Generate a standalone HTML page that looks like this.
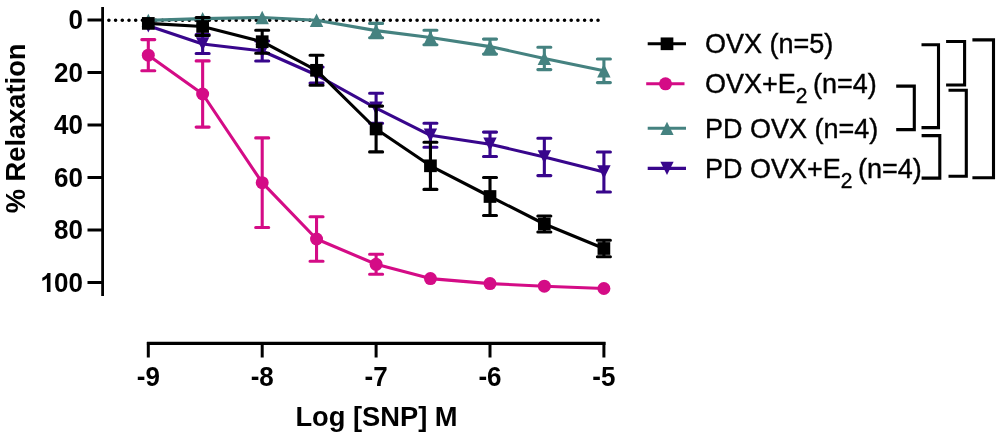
<!DOCTYPE html>
<html><head><meta charset="utf-8"><style>
html,body{margin:0;padding:0;background:#fff;}
svg{display:block;will-change:transform;}
.tk{font-family:"Liberation Sans",sans-serif;font-weight:bold;font-size:26px;}
.al{font-family:"Liberation Sans",sans-serif;font-weight:bold;font-size:27.3px;}
.lg{font-family:"Liberation Sans",sans-serif;font-size:27px;stroke:#000;stroke-width:0.4px;}
</style></head><body>
<svg width="1001" height="439" viewBox="0 0 1001 439">
<line x1="108.9" y1="20.2" x2="600" y2="20.2" stroke="#000" stroke-width="3.6" stroke-dasharray="0 6.7" stroke-linecap="round"/>
<path d="M202.64 34.50V53.50" stroke="#38068c" stroke-width="3.1" fill="none"/>
<path d="M196.14 34.50H209.14M196.14 53.50H209.14" stroke="#38068c" stroke-width="3.1" stroke-linecap="round" fill="none"/>
<path d="M262.20 41.00V61.00" stroke="#38068c" stroke-width="3.1" fill="none"/>
<path d="M255.70 41.00H268.70M255.70 61.00H268.70" stroke="#38068c" stroke-width="3.1" stroke-linecap="round" fill="none"/>
<path d="M316.54 67.00V83.00" stroke="#38068c" stroke-width="3.1" fill="none"/>
<path d="M310.04 67.00H323.04M310.04 83.00H323.04" stroke="#38068c" stroke-width="3.1" stroke-linecap="round" fill="none"/>
<path d="M376.10 93.20V123.20" stroke="#38068c" stroke-width="3.1" fill="none"/>
<path d="M369.60 93.20H382.60M369.60 123.20H382.60" stroke="#38068c" stroke-width="3.1" stroke-linecap="round" fill="none"/>
<path d="M430.44 123.30V147.30" stroke="#38068c" stroke-width="3.1" fill="none"/>
<path d="M423.94 123.30H436.94M423.94 147.30H436.94" stroke="#38068c" stroke-width="3.1" stroke-linecap="round" fill="none"/>
<path d="M490.00 132.10V156.50" stroke="#38068c" stroke-width="3.1" fill="none"/>
<path d="M483.50 132.10H496.50M483.50 156.50H496.50" stroke="#38068c" stroke-width="3.1" stroke-linecap="round" fill="none"/>
<path d="M544.34 138.20V175.60" stroke="#38068c" stroke-width="3.1" fill="none"/>
<path d="M537.84 138.20H550.84M537.84 175.60H550.84" stroke="#38068c" stroke-width="3.1" stroke-linecap="round" fill="none"/>
<path d="M603.90 152.00V192.00" stroke="#38068c" stroke-width="3.1" fill="none"/>
<path d="M597.40 152.00H610.40M597.40 192.00H610.40" stroke="#38068c" stroke-width="3.1" stroke-linecap="round" fill="none"/>
<path d="M148.30 25.70 L202.64 44.00 L262.20 51.00 L316.54 75.00 L376.10 108.20 L430.44 135.30 L490.00 144.30 L544.34 156.90 L603.90 172.00" stroke="#38068c" stroke-width="3.1" fill="none" stroke-linejoin="round"/>
<path d="M148.30 32.40L155.00 19.00L141.60 19.00Z" fill="#38068c"/>
<path d="M202.64 50.70L209.34 37.30L195.94 37.30Z" fill="#38068c"/>
<path d="M262.20 57.70L268.90 44.30L255.50 44.30Z" fill="#38068c"/>
<path d="M316.54 81.70L323.24 68.30L309.84 68.30Z" fill="#38068c"/>
<path d="M376.10 114.90L382.80 101.50L369.40 101.50Z" fill="#38068c"/>
<path d="M430.44 142.00L437.14 128.60L423.74 128.60Z" fill="#38068c"/>
<path d="M490.00 151.00L496.70 137.60L483.30 137.60Z" fill="#38068c"/>
<path d="M544.34 163.60L551.04 150.20L537.64 150.20Z" fill="#38068c"/>
<path d="M603.90 178.70L610.60 165.30L597.20 165.30Z" fill="#38068c"/>
<path d="M376.10 23.40V37.80" stroke="#458280" stroke-width="3.1" fill="none"/>
<path d="M369.60 23.40H382.60M369.60 37.80H382.60" stroke="#458280" stroke-width="3.1" stroke-linecap="round" fill="none"/>
<path d="M430.44 30.20V44.80" stroke="#458280" stroke-width="3.1" fill="none"/>
<path d="M423.94 30.20H436.94M423.94 44.80H436.94" stroke="#458280" stroke-width="3.1" stroke-linecap="round" fill="none"/>
<path d="M490.00 39.10V54.10" stroke="#458280" stroke-width="3.1" fill="none"/>
<path d="M483.50 39.10H496.50M483.50 54.10H496.50" stroke="#458280" stroke-width="3.1" stroke-linecap="round" fill="none"/>
<path d="M544.34 47.20V69.60" stroke="#458280" stroke-width="3.1" fill="none"/>
<path d="M537.84 47.20H550.84M537.84 69.60H550.84" stroke="#458280" stroke-width="3.1" stroke-linecap="round" fill="none"/>
<path d="M603.90 59.00V82.60" stroke="#458280" stroke-width="3.1" fill="none"/>
<path d="M597.40 59.00H610.40M597.40 82.60H610.40" stroke="#458280" stroke-width="3.1" stroke-linecap="round" fill="none"/>
<path d="M148.30 20.40 L202.64 18.60 L262.20 17.50 L316.54 20.20 L376.10 30.60 L430.44 37.50 L490.00 46.60 L544.34 58.40 L603.90 70.80" stroke="#458280" stroke-width="3.1" fill="none" stroke-linejoin="round"/>
<path d="M148.30 13.70L155.00 27.10L141.60 27.10Z" fill="#458280"/>
<path d="M202.64 11.90L209.34 25.30L195.94 25.30Z" fill="#458280"/>
<path d="M262.20 10.80L268.90 24.20L255.50 24.20Z" fill="#458280"/>
<path d="M316.54 13.50L323.24 26.90L309.84 26.90Z" fill="#458280"/>
<path d="M376.10 23.90L382.80 37.30L369.40 37.30Z" fill="#458280"/>
<path d="M430.44 30.80L437.14 44.20L423.74 44.20Z" fill="#458280"/>
<path d="M490.00 39.90L496.70 53.30L483.30 53.30Z" fill="#458280"/>
<path d="M544.34 51.70L551.04 65.10L537.64 65.10Z" fill="#458280"/>
<path d="M603.90 64.10L610.60 77.50L597.20 77.50Z" fill="#458280"/>
<path d="M148.30 39.60V70.80" stroke="#d40c86" stroke-width="3.1" fill="none"/>
<path d="M141.80 39.60H154.80M141.80 70.80H154.80" stroke="#d40c86" stroke-width="3.1" stroke-linecap="round" fill="none"/>
<path d="M202.64 60.90V127.10" stroke="#d40c86" stroke-width="3.1" fill="none"/>
<path d="M196.14 60.90H209.14M196.14 127.10H209.14" stroke="#d40c86" stroke-width="3.1" stroke-linecap="round" fill="none"/>
<path d="M262.20 137.90V227.50" stroke="#d40c86" stroke-width="3.1" fill="none"/>
<path d="M255.70 137.90H268.70M255.70 227.50H268.70" stroke="#d40c86" stroke-width="3.1" stroke-linecap="round" fill="none"/>
<path d="M316.54 216.80V261.20" stroke="#d40c86" stroke-width="3.1" fill="none"/>
<path d="M310.04 216.80H323.04M310.04 261.20H323.04" stroke="#d40c86" stroke-width="3.1" stroke-linecap="round" fill="none"/>
<path d="M376.10 254.30V274.30" stroke="#d40c86" stroke-width="3.1" fill="none"/>
<path d="M369.60 254.30H382.60M369.60 274.30H382.60" stroke="#d40c86" stroke-width="3.1" stroke-linecap="round" fill="none"/>
<path d="M148.30 55.20 L202.64 94.00 L262.20 182.70 L316.54 239.00 L376.10 264.30 L430.44 278.60 L490.00 283.60 L544.34 286.20 L603.90 288.50" stroke="#d40c86" stroke-width="3.1" fill="none" stroke-linejoin="round"/>
<circle cx="148.30" cy="55.20" r="6.50" fill="#d40c86"/>
<circle cx="202.64" cy="94.00" r="6.50" fill="#d40c86"/>
<circle cx="262.20" cy="182.70" r="6.50" fill="#d40c86"/>
<circle cx="316.54" cy="239.00" r="6.50" fill="#d40c86"/>
<circle cx="376.10" cy="264.30" r="6.50" fill="#d40c86"/>
<circle cx="430.44" cy="278.60" r="6.50" fill="#d40c86"/>
<circle cx="490.00" cy="283.60" r="6.50" fill="#d40c86"/>
<circle cx="544.34" cy="286.20" r="6.50" fill="#d40c86"/>
<circle cx="603.90" cy="288.50" r="6.50" fill="#d40c86"/>
<path d="M202.64 17.50V35.50" stroke="#000000" stroke-width="3.1" fill="none"/>
<path d="M196.14 17.50H209.14M196.14 35.50H209.14" stroke="#000000" stroke-width="3.1" stroke-linecap="round" fill="none"/>
<path d="M262.20 30.20V53.20" stroke="#000000" stroke-width="3.1" fill="none"/>
<path d="M255.70 30.20H268.70M255.70 53.20H268.70" stroke="#000000" stroke-width="3.1" stroke-linecap="round" fill="none"/>
<path d="M316.54 55.30V85.30" stroke="#000000" stroke-width="3.1" fill="none"/>
<path d="M310.04 55.30H323.04M310.04 85.30H323.04" stroke="#000000" stroke-width="3.1" stroke-linecap="round" fill="none"/>
<path d="M376.10 106.10V151.90" stroke="#000000" stroke-width="3.1" fill="none"/>
<path d="M369.60 106.10H382.60M369.60 151.90H382.60" stroke="#000000" stroke-width="3.1" stroke-linecap="round" fill="none"/>
<path d="M430.44 142.20V189.40" stroke="#000000" stroke-width="3.1" fill="none"/>
<path d="M423.94 142.20H436.94M423.94 189.40H436.94" stroke="#000000" stroke-width="3.1" stroke-linecap="round" fill="none"/>
<path d="M490.00 177.50V215.50" stroke="#000000" stroke-width="3.1" fill="none"/>
<path d="M483.50 177.50H496.50M483.50 215.50H496.50" stroke="#000000" stroke-width="3.1" stroke-linecap="round" fill="none"/>
<path d="M544.34 216.00V232.00" stroke="#000000" stroke-width="3.1" fill="none"/>
<path d="M537.84 216.00H550.84M537.84 232.00H550.84" stroke="#000000" stroke-width="3.1" stroke-linecap="round" fill="none"/>
<path d="M603.90 240.30V256.70" stroke="#000000" stroke-width="3.1" fill="none"/>
<path d="M597.40 240.30H610.40M597.40 256.70H610.40" stroke="#000000" stroke-width="3.1" stroke-linecap="round" fill="none"/>
<path d="M148.30 23.40 L202.64 26.50 L262.20 41.70 L316.54 70.30 L376.10 129.00 L430.44 165.80 L490.00 196.50 L544.34 224.00 L603.90 248.50" stroke="#000000" stroke-width="3.1" fill="none" stroke-linejoin="round"/>
<rect x="141.95" y="17.05" width="12.70" height="12.70" fill="#000000"/>
<rect x="196.29" y="20.15" width="12.70" height="12.70" fill="#000000"/>
<rect x="255.85" y="35.35" width="12.70" height="12.70" fill="#000000"/>
<rect x="310.19" y="63.95" width="12.70" height="12.70" fill="#000000"/>
<rect x="369.75" y="122.65" width="12.70" height="12.70" fill="#000000"/>
<rect x="424.09" y="159.45" width="12.70" height="12.70" fill="#000000"/>
<rect x="483.65" y="190.15" width="12.70" height="12.70" fill="#000000"/>
<rect x="537.99" y="217.65" width="12.70" height="12.70" fill="#000000"/>
<rect x="597.55" y="242.15" width="12.70" height="12.70" fill="#000000"/>
<path d="M102.6 7V296" stroke="#000" stroke-width="2.8" fill="none"/>
<path d="M87.5 20.00H102.6" stroke="#000" stroke-width="3"/>
<text transform="translate(83 29.40) scale(1 1.04)" text-anchor="end" class="tk">0</text>
<path d="M87.5 72.50H102.6" stroke="#000" stroke-width="3"/>
<text transform="translate(83 81.90) scale(1 1.04)" text-anchor="end" class="tk">20</text>
<path d="M87.5 125.00H102.6" stroke="#000" stroke-width="3"/>
<text transform="translate(83 134.40) scale(1 1.04)" text-anchor="end" class="tk">40</text>
<path d="M87.5 177.50H102.6" stroke="#000" stroke-width="3"/>
<text transform="translate(83 186.90) scale(1 1.04)" text-anchor="end" class="tk">60</text>
<path d="M87.5 230.00H102.6" stroke="#000" stroke-width="3"/>
<text transform="translate(83 239.40) scale(1 1.04)" text-anchor="end" class="tk">80</text>
<path d="M87.5 282.50H102.6" stroke="#000" stroke-width="3"/>
<text transform="translate(83 291.90) scale(1 1.04)" text-anchor="end" class="tk">00</text>
<path transform="translate(39.63 291.90) scale(0.01270 -0.01287)" d="M854 0H573V1062Q419 918 210 849V1105Q320 1141 449 1241Q578 1341 626 1466H854Z"/>
<path d="M146.9 343.3H605.5" stroke="#000" stroke-width="3.2" fill="none"/>
<path d="M148.30 342V357.5" stroke="#000" stroke-width="3"/>
<text transform="translate(148.30 386.3) scale(1 1.04)" text-anchor="middle" class="tk">-9</text>
<path d="M262.20 342V357.5" stroke="#000" stroke-width="3"/>
<text transform="translate(262.20 386.3) scale(1 1.04)" text-anchor="middle" class="tk">-8</text>
<path d="M376.10 342V357.5" stroke="#000" stroke-width="3"/>
<text transform="translate(376.10 386.3) scale(1 1.04)" text-anchor="middle" class="tk">-7</text>
<path d="M490.00 342V357.5" stroke="#000" stroke-width="3"/>
<text transform="translate(490.00 386.3) scale(1 1.04)" text-anchor="middle" class="tk">-6</text>
<path d="M603.90 342V357.5" stroke="#000" stroke-width="3"/>
<text transform="translate(603.90 386.3) scale(1 1.04)" text-anchor="middle" class="tk">-5</text>
<text transform="translate(376.5 426) scale(1 1.04)" text-anchor="middle" class="al">Log [SNP] M</text>
<text transform="translate(24.6 128.4) rotate(-90) scale(1 1.04)" text-anchor="middle" class="al">% Relaxation</text>
<path d="M647.7 43.8H686" stroke="#000000" stroke-width="3.1"/>
<rect x="660.65" y="37.45" width="12.70" height="12.70" fill="#000000"/>
<text transform="translate(705 53.4) scale(1 1.04)" class="lg">OVX (n=5)</text>
<path d="M646.2 83.8H684.5" stroke="#d40c86" stroke-width="3.1"/>
<circle cx="665.50" cy="83.80" r="6.50" fill="#d40c86"/>
<text transform="translate(705 93.4) scale(1 1.04)" class="lg">OVX+E<tspan dy="9.3" font-size="21">2</tspan><tspan dy="-9.3" font-size="20"> </tspan>(n=4)</text>
<path d="M647.7 128.3H686" stroke="#458280" stroke-width="3.1"/>
<path d="M667.00 121.70L673.60 134.90L660.40 134.90Z" fill="#458280"/>
<text transform="translate(705 137.9) scale(1 1.04)" class="lg">PD OVX (n=4)</text>
<path d="M647.7 168.4H686" stroke="#38068c" stroke-width="3.1"/>
<path d="M667.00 175.00L673.60 161.80L660.40 161.80Z" fill="#38068c"/>
<text transform="translate(705 178.0) scale(1 1.04)" class="lg">PD OVX+E<tspan dy="9.3" font-size="21">2</tspan><tspan dy="-9.3" font-size="20"> </tspan>(n=4)</text>
<path d="M896.2 86.1H914.3V129.6H896.2" stroke="#000" stroke-width="3.1" fill="none"/>
<path d="M921.5 44.8H938.5V127.6H921.5" stroke="#000" stroke-width="3.1" fill="none"/>
<path d="M921.6 135.6H939.8V178.1H921.6" stroke="#000" stroke-width="3.1" fill="none"/>
<path d="M946.1 41.5H964.6V85H946.1" stroke="#000" stroke-width="3.1" fill="none"/>
<path d="M948.5 90.3H966.3V176.2H948.5" stroke="#000" stroke-width="3.1" fill="none"/>
<path d="M972.4 39.9H993.5V177.8H972.4" stroke="#000" stroke-width="3.1" fill="none"/>
</svg>
</body></html>
